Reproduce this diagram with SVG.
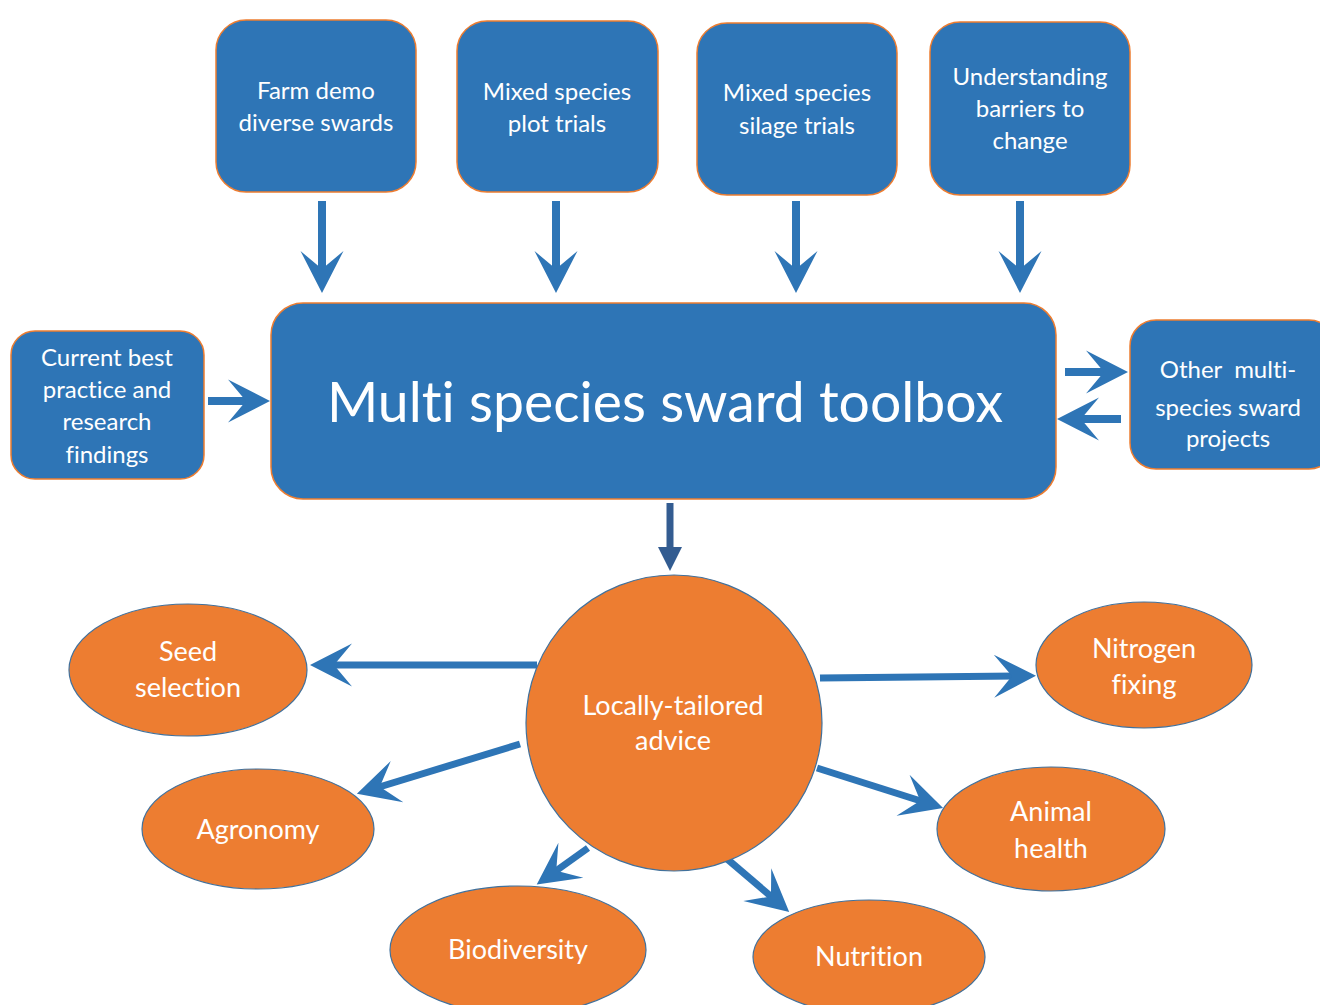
<svg xmlns="http://www.w3.org/2000/svg" width="1320" height="1005" viewBox="0 0 1320 1005">
<style>
.box{fill:#2E75B6;stroke:#ED7D31;stroke-width:1.5}
.oval{fill:#ED7D31;stroke:#41719C;stroke-width:1.2}
.t{font-family:Lato,"Liberation Sans",sans-serif;fill:#FFFFFF;text-anchor:middle;font-variant-ligatures:none;font-feature-settings:"liga" 0,"clig" 0,"dlig" 0;white-space:pre}
.s23{font-size:24px}
.s27{font-size:27px}
.conn{stroke:#2E75B6;stroke-width:8;fill:none;marker-end:url(#ah)}
.conn7{stroke:#2E75B6;stroke-width:7;fill:none;marker-end:url(#ah)}
</style>
<defs>
<marker id="ah" markerUnits="userSpaceOnUse" viewBox="-24 -23 46 46" markerWidth="46" markerHeight="46" refX="0" refY="0" orient="auto">
<path d="M20,0 L-22,-21.5 L-4,0 L-22,21.5 Z" fill="#2E75B6"/>
</marker>
<marker id="ah2" markerUnits="userSpaceOnUse" viewBox="-2 -13 28 26" markerWidth="28" markerHeight="26" refX="0" refY="0" orient="auto">
<path d="M0,-12 L24,0 L0,12 Z" fill="#335C91"/>
</marker>
</defs>
<g id="connectors">
<line class="conn" x1="322" y1="201" x2="322" y2="273"/>
<line class="conn" x1="556" y1="201" x2="556" y2="273"/>
<line class="conn" x1="796" y1="201" x2="796" y2="273"/>
<line class="conn" x1="1020" y1="201" x2="1020" y2="273"/>
<line class="conn" x1="208" y1="401" x2="250" y2="401"/>
<line class="conn" x1="1065" y1="372" x2="1108" y2="372"/>
<line class="conn" x1="1121" y1="419" x2="1077" y2="419"/>
<line x1="670" y1="503" x2="670" y2="547" stroke="#335C91" stroke-width="7" marker-end="url(#ah2)"/>
<line class="conn7" x1="537" y1="665" x2="330" y2="665"/>
<line class="conn7" x1="520" y1="744" x2="376" y2="788"/>
<line class="conn7" x1="588" y1="848" x2="553" y2="873"/>
<line class="conn7" x1="726" y1="858" x2="774" y2="899"/>
<line class="conn7" x1="820" y1="678" x2="1016" y2="676"/>
<line class="conn7" x1="817" y1="768" x2="924" y2="802"/>
</g>
<g id="farm-demo">
<rect class="box" x="216" y="20" width="200" height="172" rx="30"/>
<text class="t s23" x="316" y="99">Farm demo</text>
<text class="t s23" x="316" y="131">diverse swards</text>
</g>
<g id="plot-trials">
<rect class="box" x="457" y="21" width="201" height="171" rx="30"/>
<text class="t s23" x="557" y="100">Mixed species</text>
<text class="t s23" x="557" y="132">plot trials</text>
</g>
<g id="silage-trials">
<rect class="box" x="697" y="23" width="200" height="172" rx="30"/>
<text class="t s23" x="797" y="101">Mixed species</text>
<text class="t s23" x="797" y="134">silage trials</text>
</g>
<g id="barriers">
<rect class="box" x="930" y="22" width="200" height="173" rx="30"/>
<text class="t s23" x="1030" y="85">Understanding</text>
<text class="t s23" x="1030" y="117">barriers to</text>
<text class="t s23" x="1030" y="149">change</text>
</g>
<g id="current-practice">
<rect class="box" x="11" y="331" width="193" height="148" rx="24"/>
<text class="t s23" x="107" y="366">Current best</text>
<text class="t s23" x="107" y="398">practice and</text>
<text class="t s23" x="107" y="430">research</text>
<text class="t s23" x="107" y="463">findings</text>
</g>
<g id="toolbox">
<rect class="box" x="271" y="303" width="785" height="196" rx="32"/>
<text class="t" x="665" y="422" font-size="56" textLength="676" lengthAdjust="spacingAndGlyphs">Multi species sward toolbox</text>
</g>
<g id="other-projects">
<rect class="box" x="1130" y="320" width="205" height="149" rx="26"/>
<text class="t s23" x="1228" y="378">Other  multi-</text>
<text class="t s23" x="1228" y="416">species sward</text>
<text class="t s23" x="1228" y="447">projects</text>
</g>
<g id="advice">
<circle class="oval" cx="674" cy="723" r="148"/>
<text class="t s27" x="673" y="715">Locally-tailored</text>
<text class="t s27" x="673" y="750">advice</text>
</g>
<g id="seed-selection">
<ellipse class="oval" cx="188" cy="670" rx="119" ry="66"/>
<text class="t s27" x="188" y="661">Seed</text>
<text class="t s27" x="188" y="697">selection</text>
</g>
<g id="agronomy">
<ellipse class="oval" cx="258" cy="829" rx="116" ry="60"/>
<text class="t s27" x="258" y="839">Agronomy</text>
</g>
<g id="biodiversity">
<ellipse class="oval" cx="518" cy="950" rx="128" ry="64"/>
<text class="t s27" x="518" y="959">Biodiversity</text>
</g>
<g id="nutrition">
<ellipse class="oval" cx="869" cy="957" rx="116" ry="57"/>
<text class="t s27" x="869" y="966">Nutrition</text>
</g>
<g id="nitrogen-fixing">
<ellipse class="oval" cx="1144" cy="665" rx="108" ry="63"/>
<text class="t s27" x="1144" y="658">Nitrogen</text>
<text class="t s27" x="1144" y="694">fixing</text>
</g>
<g id="animal-health">
<ellipse class="oval" cx="1051" cy="829" rx="114" ry="62"/>
<text class="t s27" x="1051" y="821">Animal</text>
<text class="t s27" x="1051" y="858">health</text>
</g>
</svg>
